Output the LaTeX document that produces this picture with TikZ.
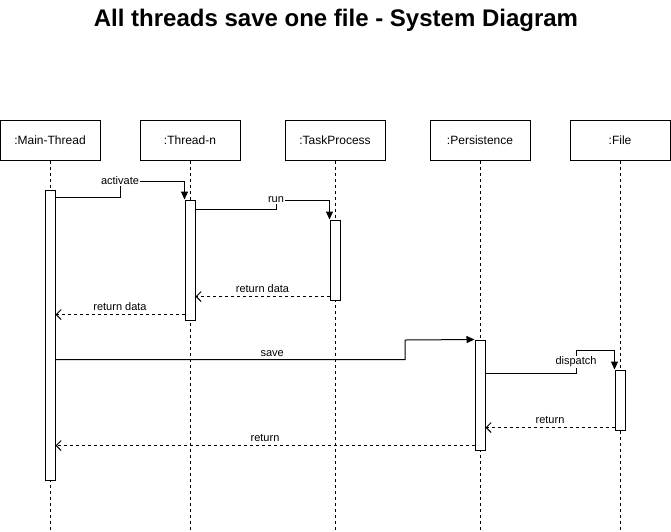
\documentclass[tikz,border=0pt]{standalone}
\usepackage{fontspec}
\setmainfont{Liberation Sans}
\usetikzlibrary{arrows.meta}

\begin{document}
\begin{tikzpicture}[
    x=1pt, y=-1pt,
    head/.style={rectangle, draw=black, line width=1pt, fill=white,
        minimum width=100pt, minimum height=40pt, inner sep=0pt,
        font=\fontsize{12}{14}\selectfont},
    act/.style={rectangle, draw=black, line width=1pt, fill=white,
        minimum width=10pt, inner sep=0pt},
    lifeline/.style={line width=1pt, dash pattern=on 3pt off 3pt},
    call/.style={line width=1pt, -{Triangle[length=8pt,width=7pt]}},
    reply/.style={line width=1pt, dash pattern=on 3pt off 3pt,
        -{Straight Barb[length=5pt,width=10pt]}},
    lbl/.style={fill=white, inner sep=1pt, font=\fontsize{11}{13}\selectfont},
    title/.style={font=\fontsize{24}{28}\selectfont\bfseries}
]
    \useasboundingbox (0,0) rectangle (671,531);
    \node[title] (title) at (336,20) {All threads save one file - System Diagram};
    \coordinate (bottom) at (0,531);
    % lifelines
    \node[head] (main) at (50,140) {:Main-Thread};
    \node[head] (thread) at (190,140) {:Thread-n};
    \node[head] (task) at (335,140) {:TaskProcess};
    \node[head] (pers) at (480,140) {:Persistence};
    \node[head] (file) at (620,140) {:File};
    \draw[lifeline] (main.south) -- (main |- bottom);
    \draw[lifeline] (thread.south) -- (thread |- bottom);
    \draw[lifeline] (task.south) -- (task |- bottom);
    \draw[lifeline] (pers.south) -- (pers |- bottom);
    \draw[lifeline] (file.south) -- (file |- bottom);
    % activations
    \node[act, minimum height=290pt] (actmain) at (50,335) {};
    \node[act, minimum height=120pt] (actthread) at (190,260) {};
    \node[act, minimum height=80pt] (acttask) at (335,260) {};
    \node[act, minimum height=110pt] (actpers) at (480,395) {};
    \node[act, minimum height=60pt] (actfile) at (620,400) {};
    % messages
    \draw[call] ([yshift=-8pt]actmain.north east) -| (120,181)
        node[lbl] {activate} -| (actthread.north west);
    \draw[call] ([yshift=-10pt]actthread.north east) -| (276,200)
        node[lbl] {run} -| (acttask.north west);
    \coordinate (r1) at ([yshift=4pt]acttask.south west);
    \draw[reply] (r1) -- node[lbl, above=2pt] {return data} (r1 -| actthread.east);
    \coordinate (r2) at ([yshift=6pt]actthread.south west);
    \draw[reply] (r2) -- node[lbl, above=2pt] {return data} (r2 -| actmain.east);
    \draw[call] ([yshift=-170pt]actmain.north east)
        -| node[lbl, pos=0.31, above=1pt] {save} (405,340) -- (actpers.north west);
    \draw[call] ([yshift=-34pt]actpers.north east)
        -| node[lbl, pos=0.75] {dispatch} (576,350) -| (actfile.north west);
    \coordinate (r3) at ([yshift=3pt]actfile.south west);
    \draw[reply] (r3) -- node[lbl, above=2pt] {return} (r3 -| actpers.east);
    \coordinate (r4) at ([yshift=5pt]actpers.south west);
    \draw[reply] (r4) -- node[lbl, above=2pt] {return} (r4 -| actmain.east);
\end{tikzpicture}
\end{document}
